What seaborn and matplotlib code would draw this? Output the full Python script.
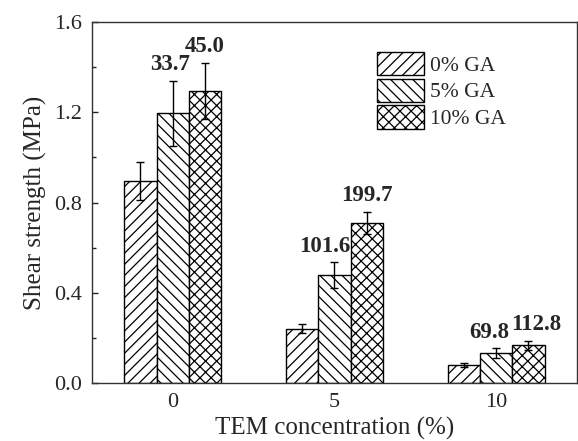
import matplotlib
matplotlib.use("Agg")
import matplotlib.pyplot as plt
import seaborn as sns
import pandas as pd
import numpy as np
from matplotlib.ticker import MultipleLocator

sns.set_style("ticks")
plt.rcParams['font.family'] = ['Liberation Serif', 'DejaVu Serif']
plt.rcParams['hatch.linewidth'] = 0.9

# ---- data ----
tem = ["0", "5", "10"]
series = ["0% GA", "5% GA", "10% GA"]
ga0 = [0.895, 0.240, 0.080]
ga5 = [1.195, 0.478, 0.133]
ga10 = [1.295, 0.709, 0.168]
err0 = [0.085, 0.020, 0.010]
err5 = [0.145, 0.057, 0.020]
err10 = [0.125, 0.050, 0.020]
labels5 = ["33.7", "101.6", "69.8"]
labels10 = ["45.0", "199.7", "112.8"]

values = [ga0, ga5, ga10]
errors = [err0, err5, err10]
rows = []
for s, vals in zip(series, values):
    for t, v in zip(tem, vals):
        rows.append({"TEM": t, "GA": s, "value": v})
df = pd.DataFrame(rows)

fig = plt.figure(figsize=(5.78, 4.41), dpi=100)
ax = fig.add_axes([0.159, 0.1315, 0.839, 0.8185])

sns.barplot(data=df, x="TEM", y="value", hue="GA", order=tem, hue_order=series,
            width=0.6, errorbar=None, color="white", edgecolor="black",
            linewidth=1.0, ax=ax, legend=True)

hatches = ["///", "\\\\\\", "xxx"]
bars = [p for p in ax.patches if p.get_height() > 0][:9]
for i, p in enumerate(bars):
    si = i // 3
    p.set_facecolor("white")
    p.set_hatch(hatches[si])
    p.set_edgecolor("black")

# error bars
for i, p in enumerate(bars):
    si, gi = i // 3, i % 3
    xc = p.get_x() + p.get_width() / 2
    ax.errorbar(xc, values[si][gi], yerr=errors[si][gi], color="black",
                capsize=3, elinewidth=1.0, capthick=1.0, fmt="none", zorder=5)

# value labels
shifts5 = [-3, -10, -7]
shifts10 = [0, 0, 8]
for si, labs, shifts in [(1, labels5, shifts5), (2, labels10, shifts10)]:
    for gi in range(3):
        p = bars[si * 3 + gi]
        xc = p.get_x() + p.get_width() / 2
        ytop = values[si][gi] + errors[si][gi]
        ax.annotate(labs[gi], (xc, ytop), xytext=(shifts[gi] * 0.72, 4.0),
                    textcoords="offset points", ha="center", va="bottom",
                    fontsize=16.5, fontweight="bold")

ax.set_ylim(0, 1.6)
ax.set_xlim(-0.5, 2.5)
ax.yaxis.set_minor_locator(MultipleLocator(0.2))
ax.set_yticks([0.0, 0.4, 0.8, 1.2, 1.6])
ax.set_yticklabels(["0.0", "0.4", "0.8", "1.2", "1.6"])
ax.tick_params(axis="y", which="major", direction="in", length=4.5, width=1,
               labelsize=16, pad=7)
ax.tick_params(axis="y", which="minor", direction="in", length=3, width=1)
ax.tick_params(axis="x", length=0, labelsize=16, pad=7)
for sp in ax.spines.values():
    sp.set_visible(True)
    sp.set_linewidth(1.0)
    sp.set_color("#333333")

ax.set_xlabel("TEM concentration (%)", fontsize=18, labelpad=4)
ax.set_ylabel("Shear strength (MPa)", fontsize=18, labelpad=5)

# legend
handles = [matplotlib.patches.Patch(facecolor="white", edgecolor="black",
                                    hatch=h, label=s, linewidth=1.0)
           for h, s in zip(hatches, series)]
if ax.get_legend() is not None:
    ax.get_legend().remove()
ax.legend(handles=handles, loc="upper left", bbox_to_anchor=(0.588, 0.917),
          frameon=False, fontsize=15.5, handlelength=2.2, handleheight=1.3,
          labelspacing=0.12, handletextpad=0.25, borderpad=0, borderaxespad=0)

fig.savefig("out.png", dpi=100, facecolor="white")
